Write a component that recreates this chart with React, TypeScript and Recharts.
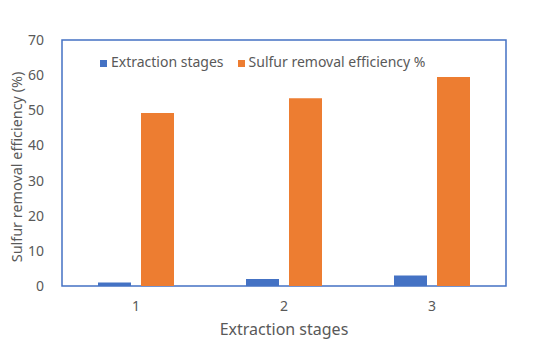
import { Bar, BarChart, Legend, ReferenceArea, XAxis, YAxis } from "recharts";

const stages = ["1", "2", "3"];
const extractionStages = [1, 2, 3];
const sulfurRemoval = [49.2, 53.4, 59.5];
const yTicks = [0, 10, 20, 30, 40, 50, 60, 70];

const data = stages.map((s, i) => ({
  stage: s,
  extraction: extractionStages[i],
  sulfur: sulfurRemoval[i],
}));

const FONT = "'Noto Sans', 'DejaVu Sans', sans-serif";
const BORDER = "#4472C4";
const TEXT = "#595959";

export default function App() {
  return (
    <div style={{ position: "absolute", left: 0, top: 0, width: 550, height: 345, background: "#fff", fontFamily: FONT }}>
      <BarChart
        width={550}
        height={345}
        data={data}
        margin={{ top: 21, right: 44, bottom: 12, left: 0 }}
        barSize={33}
        barGap={10}
      >
        <XAxis
          dataKey="stage"
          axisLine={false}
          tickLine={false}
          tick={{ fill: TEXT, fontSize: 14, fontFamily: FONT }}
          tickMargin={9}
          height={47}
          label={{ value: "Extraction stages", position: "insideBottom", offset: -2, fill: TEXT, fontSize: 16, fontFamily: FONT }}
        />
        <YAxis
          domain={[0, 70]}
          ticks={yTicks}
          interval={0}
          width={62}
          axisLine={false}
          tickLine={false}
          tick={{ fill: TEXT, fontSize: 14, fontFamily: FONT }}
          tickMargin={12}
          label={{
            value: "Sulfur removal efficiency (%)",
            angle: -90,
            position: "insideLeft",
            offset: 17,
            dy: 4,
            style: { textAnchor: "middle" },
            fill: TEXT,
            fontSize: 14.4,
            fontFamily: FONT,
          }}
        />
        <ReferenceArea y1={0} y2={70} fill="none" stroke={BORDER} strokeWidth={1.5} ifOverflow="visible" />
        <Legend
          layout="horizontal"
          verticalAlign="top"
          align="left"
          iconType="square"
          iconSize={7}
          wrapperStyle={{ left: 100, top: 52, width: "auto", fontFamily: FONT, fontSize: 14 }}
          formatter={(value) => <span style={{ color: TEXT, marginRight: 4 }}>{value}</span>}
        />
        <Bar dataKey="extraction" name="Extraction stages" fill="#4472C4" isAnimationActive={false} />
        <Bar dataKey="sulfur" name="Sulfur removal efficiency %" fill="#ED7D31" isAnimationActive={false} />
      </BarChart>
    </div>
  );
}
